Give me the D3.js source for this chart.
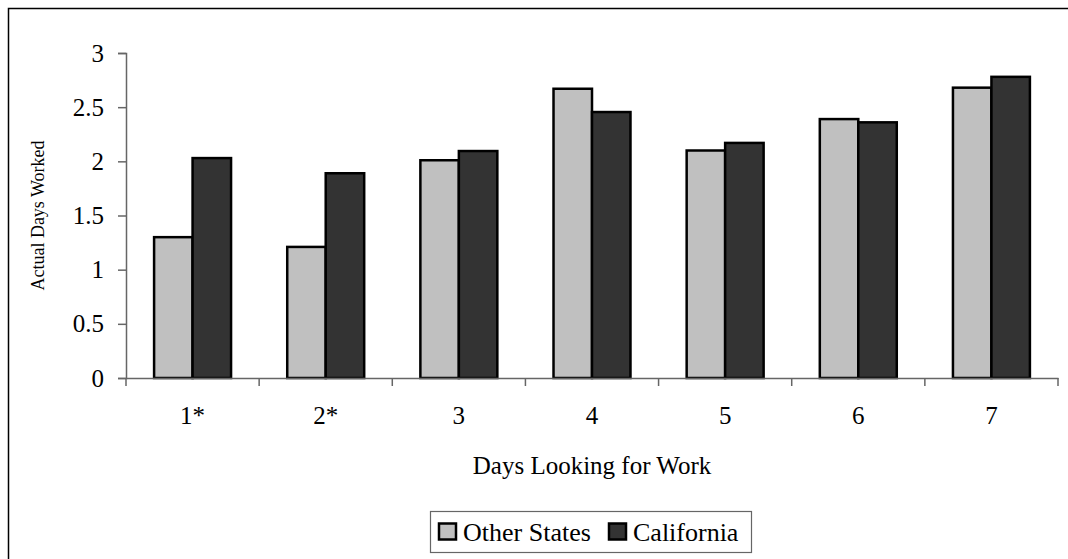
<!DOCTYPE html>
<html>
<head>
<meta charset="utf-8">
<script src="https://cdn.jsdelivr.net/npm/d3@7"></script>
<style>
  html, body { margin: 0; padding: 0; background: #fff; }
  svg { display: block; }
  svg text { font-family: "Liberation Serif", "Times New Roman", Times, serif; fill: #000; }
</style>
</head>
<body>
<svg id="chart" width="1068" height="559"></svg>
<script>
// Days spent looking for work vs. actual days worked
const categories = ["1*", "2*", "3", "4", "5", "6", "7"];
const seriesNames = ["Other States", "California"];
const otherStates = [1.30, 1.21, 2.01, 2.67, 2.10, 2.39, 2.68];
const california  = [2.03, 1.89, 2.095, 2.455, 2.17, 2.36, 2.78];
const yTicks = [0, 0.5, 1, 1.5, 2, 2.5, 3];
const colors = ["#c0c0c0", "#333333"];
const serif = '"Liberation Serif", "Times New Roman", Times, serif';

const svg = d3.select("#chart");

// chart frame
svg.append("rect")
  .attr("x", 8.5).attr("y", 8.5)
  .attr("width", 1100).attr("height", 600)
  .attr("fill", "none").attr("stroke", "#000").attr("stroke-width", 1.5);

const plot = { left: 126, right: 1058, top: 53, bottom: 378 };

const x0 = d3.scaleBand().domain(categories).range([plot.left, plot.right]).padding(0);
const x1 = d3.scaleBand().domain(seriesNames).range([0, x0.bandwidth()])
  .paddingInner(0).paddingOuter(0.73);
const y = d3.scaleLinear().domain([0, 3]).range([plot.bottom, plot.top]);

const rows = categories.map((c, i) => ({ cat: c, values: [otherStates[i], california[i]] }));

// bars
const groups = svg.append("g").selectAll("g").data(rows).join("g")
  .attr("transform", d => `translate(${x0(d.cat)},0)`);
groups.selectAll("rect")
  .data(d => d.values.map((v, j) => ({ name: seriesNames[j], v, j })))
  .join("rect")
  .attr("x", d => x1(d.name))
  .attr("y", d => y(d.v))
  .attr("width", x1.bandwidth())
  .attr("height", d => y(0) - y(d.v))
  .attr("fill", d => colors[d.j])
  .attr("stroke", "#000")
  .attr("stroke-width", 2.5);

// y axis
const yAxis = svg.append("g")
  .attr("transform", `translate(${plot.left},0)`)
  .call(d3.axisLeft(y).tickValues(yTicks).tickFormat(d3.format("")).tickSize(8).tickPadding(14));
yAxis.attr("font-family", serif);
yAxis.select(".domain").attr("stroke", "#666").attr("stroke-width", 1.5);
yAxis.selectAll(".tick line").attr("stroke", "#666").attr("stroke-width", 1.5);
yAxis.selectAll(".tick text").attr("font-size", 25).attr("font-family", serif).attr("fill", "#000");

// x axis
const xAxis = svg.append("g")
  .attr("transform", `translate(0,${plot.bottom})`)
  .call(d3.axisBottom(x0).tickSize(0).tickPadding(28));
xAxis.attr("font-family", serif);
xAxis.select(".domain").attr("stroke", "#666").attr("stroke-width", 1.5);
xAxis.selectAll(".tick text").attr("font-size", 25).attr("font-family", serif).attr("fill", "#000");
// category dividers
const edges = categories.map(c => x0(c)).concat([plot.right]);
svg.append("g").selectAll("line").data(edges).join("line")
  .attr("x1", d => d).attr("x2", d => d)
  .attr("y1", plot.bottom).attr("y2", plot.bottom + 8)
  .attr("stroke", "#666").attr("stroke-width", 1.5);

// axis titles
svg.append("text")
  .attr("x", (plot.left + plot.right) / 2).attr("y", 474)
  .attr("text-anchor", "middle").attr("font-size", 25).attr("font-family", serif)
  .text("Days Looking for Work");
svg.append("text")
  .attr("transform", `translate(44,${(plot.top + plot.bottom) / 2}) rotate(-90)`)
  .attr("text-anchor", "middle").attr("font-size", 18).attr("font-family", serif)
  .text("Actual Days Worked");

// legend
const legend = svg.append("g");
legend.append("rect")
  .attr("x", 430.5).attr("y", 511.5).attr("width", 321).attr("height", 41)
  .attr("fill", "#fff").attr("stroke", "#666").attr("stroke-width", 1.2);
const legendX = [439, 609];
seriesNames.forEach((name, j) => {
  legend.append("rect")
    .attr("x", legendX[j]).attr("y", 523.5).attr("width", 17).attr("height", 16)
    .attr("fill", colors[j]).attr("stroke", "#000").attr("stroke-width", 2.5);
  legend.append("text")
    .attr("x", legendX[j] + 24).attr("y", 540.5)
    .attr("font-size", 26).attr("font-family", serif)
    .text(name);
});
</script>
</body>
</html>
